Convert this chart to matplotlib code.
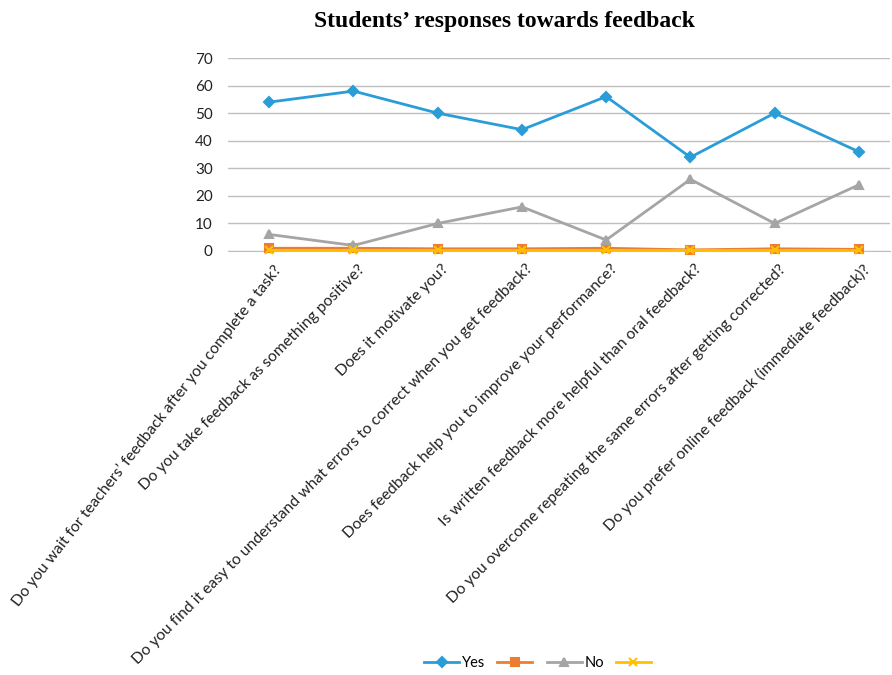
import numpy as np
import matplotlib.pyplot as plt
from matplotlib.lines import Line2D
import matplotlib.transforms as mtransforms

# ______________________ DATA ______________________
questions = [
    "Do you wait for teachers\u2019 feedback after you complete a task?",
    "Do you take feedback as something positive?",
    "Does it motivate you?",
    "Do you find it easy to understand what errors to correct when you get feedback?",
    "Does feedback help you to improve your performance?",
    "Is written feedback more helpful than oral feedback?",
    "Do you overcome repeating the same errors after getting corrected?",
    "Do you prefer online feedback (immediate feedback)?",
]
yes = [54, 58, 50, 44, 56, 34, 50, 36]
blank1 = [1, 1, 0.8, 0.8, 1, 0.4, 0.8, 0.6]
no = [6, 2, 10, 16, 4, 26, 10, 24]
blank2 = [0.2, 0.2, 0.2, 0.2, 0.2, 0.2, 0.2, 0.2]

series = [
    ("Yes", yes, "#2A9DD8", "D", 5),
    ("", blank1, "#ED7D31", "s", 6),
    ("No", no, "#A5A5A5", "^", 6),
    ("", blank2, "#FFC000", "x", 6),
]

# ______________________ PLOT ______________________
W, H = 892, 675
fig = plt.figure(figsize=(W / 100, H / 100), dpi=100)
ax = fig.add_axes([228 / W, 1 - 251 / H, (890 - 228) / W, (251 - 58) / H])

x = np.arange(len(questions))
handles = []
for name, vals, col, mk, ms in series:
    ax.plot(x, vals, color=col, lw=2, marker=mk, ms=ms, mew=1.5,
            mfc=col, mec=col, zorder=3, clip_on=False)
    handles.append(Line2D([], [], color=col, lw=2, marker=mk, ms=ms,
                          mew=1.5, mfc=col, mec=col))

ax.set_xlim(-0.49, 7.37)
ax.set_ylim(0, 70)
ax.set_yticks(range(0, 71, 10))
ax.yaxis.grid(True, color="#BFBFBF", lw=1)
ax.set_axisbelow(True)
for s in ["top", "right", "left"]:
    ax.spines[s].set_visible(False)
ax.spines["bottom"].set_color("#BFBFBF")
ax.tick_params(axis="y", length=0, colors="#222222", pad=11)
ax.tick_params(axis="x", length=0, colors="#222222", pad=8)

ax.set_xticks(x)
ax.set_xticklabels(questions, ha="right", rotation_mode="anchor",
                   family="Lato", fontsize=11.3)
shift = mtransforms.ScaledTranslation(4 / 100, 0, fig.dpi_scale_trans)
for i, lab in enumerate(ax.get_xticklabels()):
    lab.set_rotation(52 if i == 0 else 45)
    lab.set_transform(lab.get_transform() + shift)
for lab in ax.get_yticklabels():
    lab.set_family("Lato")
    lab.set_fontsize(11)

fig.text(504 / W, 1 - 22 / H, "Students\u2019 responses towards feedback",
         ha="center", va="center", family="Liberation Serif",
         fontweight="bold", fontsize=17)

fig.legend(handles, [s[0] for s in series], loc="center",
           bbox_to_anchor=(539 / W, 1 - 663 / H), ncol=4, frameon=False,
           prop={"family": "Lato", "size": 10.5}, handlelength=2.4,
           columnspacing=0.8, handletextpad=0.2)

plt.savefig("out.png", dpi=100)
